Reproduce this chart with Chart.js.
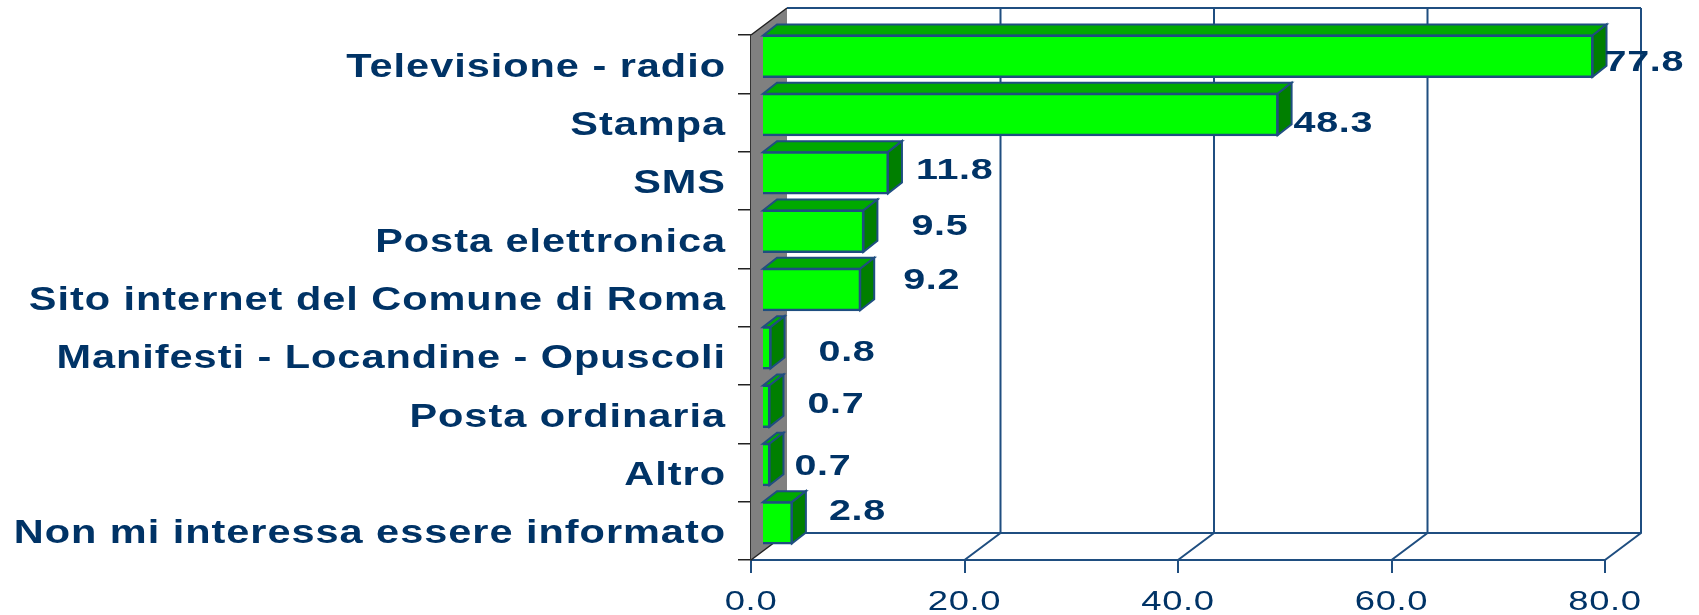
<!DOCTYPE html>
<html>
<head>
<meta charset="utf-8">
<script src="https://cdn.jsdelivr.net/npm/chart.js@4"></script>
<style>
  html, body { margin: 0; padding: 0; background: #fff; }
  #wrap { width: 1699px; height: 615px; }
  canvas { filter: blur(0.5px); }
</style>
</head>
<body>
<div id="wrap"><canvas id="chart"></canvas></div>
<script>
const categories = [
  "Televisione - radio",
  "Stampa",
  "SMS",
  "Posta elettronica",
  "Sito internet del Comune di Roma",
  "Manifesti - Locandine - Opuscoli",
  "Posta ordinaria",
  "Altro",
  "Non mi interessa essere informato"
];
const values = [77.8, 48.3, 11.8, 9.5, 9.2, 0.8, 0.7, 0.7, 2.8];
const xTicks = [0, 20, 40, 60, 80];

// the value labels sit oddly in the original, so each one has its own nudge
const labelGapX = [12, 16, 28, 48, 43, 48, 38, 25, 37];
const labelGapY = [-4, -1.5, -13, -15, -19.5, -6, -12, -8.5, -22];

const navy = "#003366";
const lineBlue = "#1f4e80";
const depthX = 36, depthY = 27;   // depth of the box
const barShiftX = 11, barShiftY = -8;
const barDepthX = 14, barDepthY = 11;

function poly(ctx, pts, fill, stroke, width) {
  ctx.beginPath();
  pts.forEach((p, i) => i ? ctx.lineTo(p[0], p[1]) : ctx.moveTo(p[0], p[1]));
  ctx.closePath();
  if (fill) { ctx.fillStyle = fill; ctx.fill(); }
  if (stroke) { ctx.strokeStyle = stroke; ctx.lineWidth = width || 1.5; ctx.stroke(); }
}

function wideText(ctx, text, x, y, stretch, align, font, spacing) {
  ctx.save();
  ctx.font = font;
  ctx.letterSpacing = spacing;
  ctx.fillStyle = navy;
  ctx.textAlign = align;
  ctx.textBaseline = "middle";
  ctx.translate(x, y + 3);
  ctx.scale(stretch, 1);
  ctx.fillText(text, 0, 0);
  ctx.restore();
}

const box3d = {
  id: "box3d",
  beforeDatasetsDraw(chart) {
    const ctx = chart.ctx, x = chart.scales.x, a = chart.chartArea;
    // left wall
    poly(ctx, [[a.left, a.bottom], [a.left + depthX, a.bottom - depthY],
               [a.left + depthX, a.top - depthY], [a.left, a.top]], "#808080", null);
    ctx.strokeStyle = "#222";
    ctx.lineWidth = 1.5;
    ctx.beginPath();
    ctx.moveTo(a.left, a.top);
    ctx.lineTo(a.left + depthX, a.top - depthY);
    ctx.moveTo(a.left, a.bottom);
    ctx.lineTo(a.left + depthX, a.bottom - depthY);
    ctx.stroke();
    // back wall and floor
    ctx.strokeStyle = lineBlue;
    ctx.lineWidth = 2;
    ctx.beginPath();
    ctx.moveTo(a.left + depthX, a.top - depthY);
    ctx.lineTo(a.right + depthX, a.top - depthY);
    ctx.moveTo(a.left + depthX, a.bottom - depthY);
    ctx.lineTo(a.right + depthX, a.bottom - depthY);
    xTicks.slice(1).forEach(v => {
      const px = x.getPixelForValue(v);
      ctx.moveTo(px, a.bottom);
      ctx.lineTo(px + depthX, a.bottom - depthY);
      ctx.lineTo(px + depthX, a.top - depthY);
    });
    ctx.stroke();
    // side and top faces of the bars
    chart.getDatasetMeta(0).data.forEach(bar => {
      const top = bar.y - bar.height / 2 + barShiftY;
      const bot = bar.y + bar.height / 2 + barShiftY;
      const l = bar.base + barShiftX, r = bar.x + barShiftX;
      poly(ctx, [[l, top], [l + barDepthX, top - barDepthY], [r + barDepthX, top - barDepthY], [r, top]],
           "#00aa00", lineBlue, 2);
      poly(ctx, [[r, top], [r + barDepthX, top - barDepthY], [r + barDepthX, bot - barDepthY], [r, bot]],
           "#007f00", lineBlue, 2);
    });
  },
  beforeDatasetDraw(chart) {
    chart.ctx.save();
    chart.ctx.translate(barShiftX, barShiftY);
  },
  afterDatasetDraw(chart) {
    chart.ctx.restore();
  },
  afterDraw(chart) {
    const ctx = chart.ctx, x = chart.scales.x, y = chart.scales.y;
    categories.forEach((c, i) => {
      wideText(ctx, c, 726, y.getPixelForValue(i), 1.22, "right", "bold 34px 'Liberation Sans'", "0.8px");
    });
    xTicks.forEach(v => {
      wideText(ctx, v.toFixed(1), x.getPixelForValue(v), 599, 1.3, "center", "28px 'Liberation Sans'", "0.5px");
    });
    chart.getDatasetMeta(0).data.forEach((bar, i) => {
      wideText(ctx, values[i].toFixed(1), bar.x + barShiftX + labelGapX[i], y.getPixelForValue(i) + labelGapY[i],
               1.36, "left", "bold 29px 'Liberation Sans'", "0.5px");
    });
  }
};

new Chart(document.getElementById("chart"), {
  type: "bar",
  data: {
    labels: categories,
    datasets: [{
      data: values,
      backgroundColor: "#00ff00",
      borderColor: lineBlue,
      borderWidth: 2.5,
      inflateAmount: 1,
      categoryPercentage: 1,
      barPercentage: 0.71,
      clip: false
    }]
  },
  options: {
    indexAxis: "y",
    responsive: true,
    maintainAspectRatio: false,
    animation: false,
    layout: { padding: { top: 35, right: 94 } },
    plugins: { legend: { display: false }, tooltip: { enabled: false } },
    scales: {
      x: {
        min: 0,
        max: 80,
        afterFit(scale) { scale.height = 55; },
        afterBuildTicks(scale) { scale.ticks = xTicks.map(v => ({ value: v })); },
        ticks: { display: false },
        grid: { drawOnChartArea: false, color: lineBlue, lineWidth: 2, tickLength: 13 },
        border: { color: lineBlue, width: 2 }
      },
      y: {
        afterFit(scale) { scale.width = 751; },
        ticks: { display: false },
        grid: { drawOnChartArea: false, color: "#222", lineWidth: 1.5, tickLength: 13 },
        border: { color: "#333", width: 2 }
      }
    }
  },
  plugins: [box3d]
});
</script>
</body>
</html>
